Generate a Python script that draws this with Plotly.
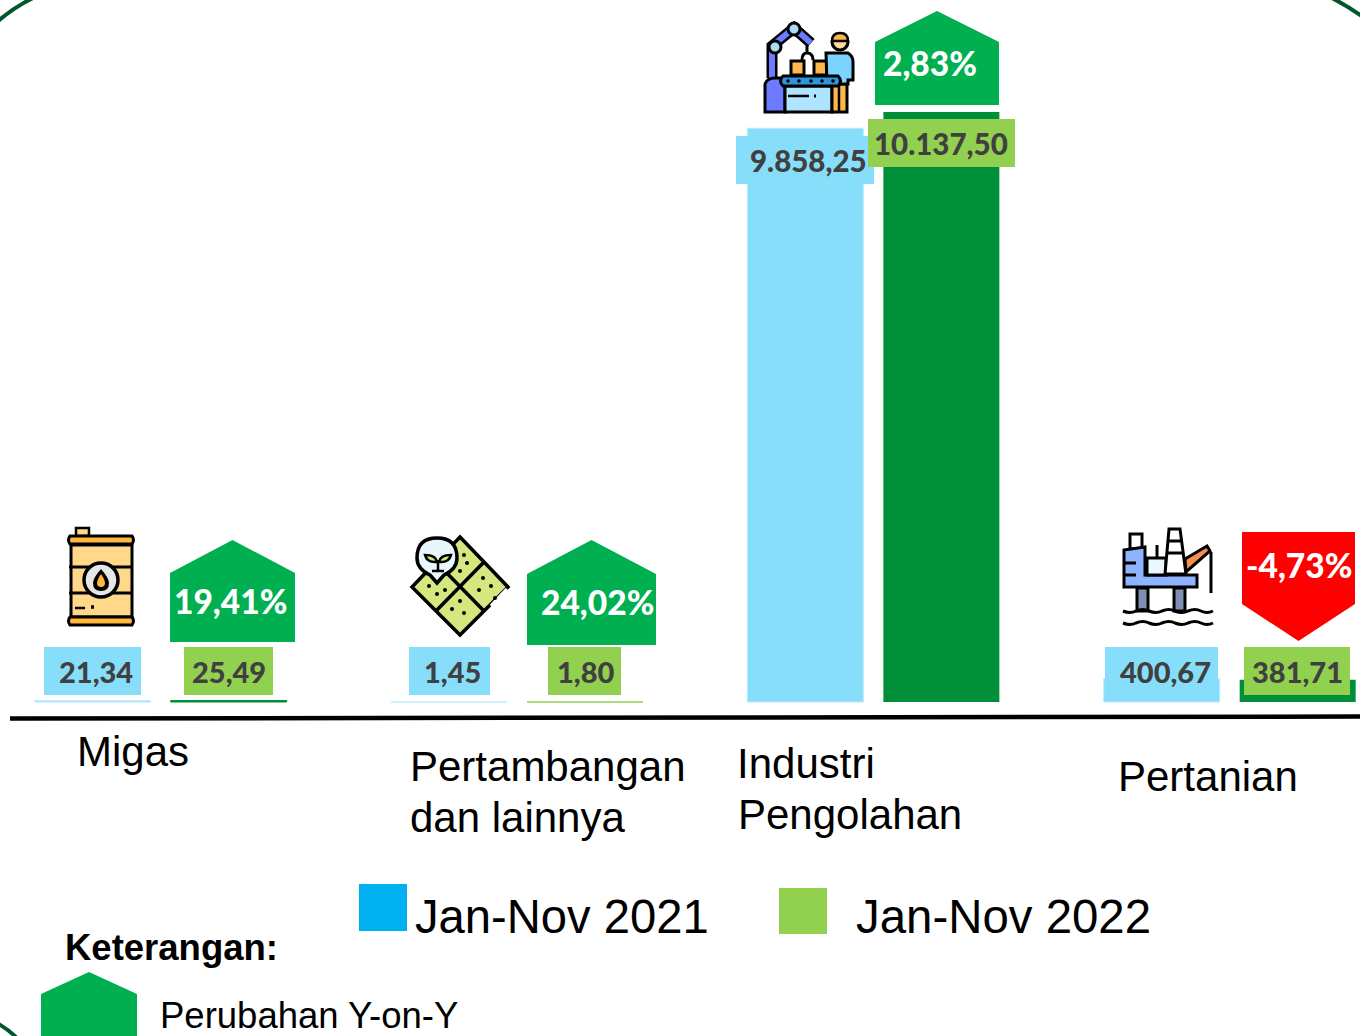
import re
import plotly.graph_objects as go

categories = ["Migas", "Pertambangan dan lainnya", "Industri Pengolahan", "Pertanian"]
series_names = ["Jan-Nov 2021", "Jan-Nov 2022"]
values_2021 = [21.34, 1.45, 9858.25, 400.67]
values_2022 = [25.49, 1.80, 10137.50, 381.71]
labels_2021 = ["21,34", "1,45", "9.858,25", "400,67"]
labels_2022 = ["25,49", "1,80", "10.137,50", "381,71"]
changes = ["19,41%", "24,02%", "2,83%", "-4,73%"]

W, H = 1360, 1036
BLUE, BAR_GREEN, LIGHT_GREEN, ARROW = "#87DEFA", "#008F39", "#92D050", "#00B050"
K = 10137.5 / 590          # value per pixel
BASE = 702                 # pixel row of value 0
BK = "#000000"


def X(p):
    return p / W


def Y(p):
    return 1 - p / H


def path_px(d):
    parts = re.findall(r"[MLCQZ]|-?\d+\.?\d*", d)
    out, i = [], 0
    for t in parts:
        if t in "MLCQZ":
            out.append(t)
        else:
            out.append(f"{X(float(t)) if i % 2 == 0 else Y(float(t)):.5f}")
            i += 1
    return " ".join(out)


shapes = []


def path(d, fill=None, line=None, w=0):
    shapes.append(dict(type="path", xref="paper", yref="paper", path=path_px(d), layer="above",
                       fillcolor=fill or "rgba(0,0,0,0)",
                       line=dict(color=line or "rgba(0,0,0,0)", width=w)))


def rect(x0, y0, x1, y1, fill, line=None, w=0):
    path(f"M{x0} {y0} L{x1} {y0} L{x1} {y1} L{x0} {y1} Z", fill, line, w)


def circle(cx, cy, r, fill, line=None, w=0):
    shapes.append(dict(type="circle", xref="paper", yref="paper", layer="above",
                       x0=X(cx - r), x1=X(cx + r), y0=Y(cy + r), y1=Y(cy - r),
                       fillcolor=fill, line=dict(color=line or "rgba(0,0,0,0)", width=w)))


def stroke(d, color=BK, w=2.5):
    path(d, None, color, w)


annotations = []


def text(x, y, s, size, color=BK, family="Liberation Sans", bold=False, anchor="left", weight=None):
    font = dict(size=size, color=color, family=family)
    if weight:
        font["weight"] = weight
    annotations.append(dict(xref="paper", yref="paper", x=X(x), y=Y(y), text=f"<b>{s}</b>" if bold else s,
                            showarrow=False, xanchor=anchor, yanchor="middle", borderpad=0, font=font))


# corner arcs of the slide frame
FRAME = "#00572B"
stroke("M-3 22 Q14 7 35 -3", FRAME, 4)
stroke("M1330 -3 Q1346 5 1363 17", FRAME, 4)
stroke("M-3 1023 Q8 1029 18 1039", FRAME, 4)

# baseline
shapes.append(dict(type="line", xref="paper", yref="paper", layer="above", x0=X(10), x1=X(1360),
                   y0=Y(718.5), y1=Y(716.5), line=dict(color=BK, width=4.5)))

# change arrows
up = [(170, 295, 540, 573, 642), (527, 656, 540, 574, 645), (875, 999, 11, 42, 105)]
for x0, x1, top, sh, bot in up:
    path(f"M{x0} {bot} L{x0} {sh} L{(x0 + x1) / 2} {top} L{x1} {sh} L{x1} {bot} Z", ARROW)
path("M1242 532 L1355 532 L1355 604 L1298.5 641 L1242 604 Z", "#FF0000")
path("M41 1040 L41 994 L89 972 L137 994 L137 1040 Z", ARROW)

# value label boxes
blue_boxes = [(44, 647, 141, 695), (409, 647, 490, 695), (736, 136, 874, 184), (1105, 647, 1218, 695)]
green_boxes = [(184, 647, 273, 695), (548, 647, 621, 695), (868, 119, 1015, 167), (1244, 647, 1350, 695)]
for b in blue_boxes:
    rect(*b, BLUE)
for b in green_boxes:
    rect(*b, LIGHT_GREEN)

# legend squares
rect(359, 884, 407, 931, "#00B0F0")
rect(779, 888, 827, 934, LIGHT_GREEN)

# --- barrel icon ---
rect(76, 528, 89, 536, "#FFD88A", BK, 2.5)
rect(71, 545, 132, 617, "#FFD88A", BK, 3)
path("M70 536 L132 536 Q135 540 132 544 L70 544 Q67 540 70 536 Z", "#FFB83D", BK, 3)
path("M70 617 L132 617 Q135 621 132 625 L70 625 Q67 621 70 617 Z", "#FFB83D", BK, 3)
stroke("M69 567 L133 567", BK, 3)
stroke("M69 593 L133 593", BK, 3)
circle(101, 580, 17, "#E6E6E6", BK, 3.5)
path("M101 569 Q109 578 109 583 Q109 591 101 591 Q93 591 93 583 Q93 578 101 569 Z", BK)
path("M101 574 Q105 580 105 583 Q105 587 101 587 Q97 587 97 583 Q97 580 101 574 Z", "#FFB83D")
stroke("M75 608 L85 608", BK, 2.5)
stroke("M91 607 L94 607", BK, 3.5)

# --- farm icon ---
path("M460 537 L508 587 L460 635 L412 587 Z", "#D5E87F", BK, 3.5)
stroke("M436 611 L484 562", BK, 3.5)
stroke("M436 562 L484 611", BK, 3.5)
stroke("M507 589 L491 606", "#FFFFFF", 3.5)
for dx, dy in [(464, 555), (467, 563), (460, 571), (483, 578), (491, 586), (479, 590), (495, 598),
               (429, 586), (437, 594), (445, 590), (460, 601), (452, 609), (464, 613)]:
    circle(dx, dy, 2, BK)
path("M437 583 L430 575 Q417 569 417 558 Q417 538 437 538 Q457 538 457 558 Q457 569 444 575 Z", "#E8F6FD", BK, 3.5)
path("M437 562 Q436 555 425 555 Q427 563 437 562 Z", "#D5E87F", BK, 2.5)
path("M439 562 Q440 555 451 555 Q449 563 439 562 Z", "#D5E87F", BK, 2.5)
stroke("M438 560 L438 571", BK, 2.5)
stroke("M432 571 L444 571", BK, 2.5)

# --- factory icon ---
stroke("M772 78 L772 46 L794 28 L811 43", BK, 11)
stroke("M772 78 L772 46 L794 28 L811 43", "#6C7BFF", 6)
circle(775, 47, 6, "#A9DDF5", BK, 3)
circle(794, 29, 6, "#A9DDF5", BK, 3)
stroke("M807 45 L807 53 M802 60 Q802 53 807 53 Q813 53 813 60", BK, 3)
rect(791, 61, 804, 75, "#FFB74D", BK, 3)
rect(814, 61, 827, 75, "#FFB74D", BK, 3)
path("M765 112 L765 84 Q767 78 775 78 L785 78 L785 112 Z", "#6C7BFF", BK, 3)
rect(785, 86, 832, 112, "#AEE4FF", BK, 3)
rect(832, 84, 847, 112, "#FFB74D", BK, 3)
stroke("M839 84 L839 112", BK, 2.5)
path("M826 53 L848 53 Q853 56 853 62 L853 80 L848 80 L848 84 L827 84 Z", "#7DD3FF", BK, 3)
circle(840, 42, 8, "#FFD9A0", BK, 3)
path("M832 41 Q832 33 840 33 Q848 33 848 41 Z", "#FFB74D", BK, 2.5)
path("M783 76 L838 76 Q843 81 838 86 L783 86 Q778 81 783 76 Z", "#2E95DC", BK, 3)
for cx in [788, 799, 811, 822, 833]:
    circle(cx, 81, 1.8, BK)
stroke("M788 96 L809 96", BK, 2.5)
stroke("M814 96 L816 96", BK, 3)

# --- oil rig icon ---
rect(1130, 534, 1142, 549, "#FFFFFF", BK, 3)
path("M1124 550 L1145 547 L1145 575 L1197 575 L1197 587 L1124 587 Z", "#8FB4FF", BK, 3)
stroke("M1124 563 L1136 563 M1124 575 L1136 575", BK, 3)
rect(1147, 558, 1166, 575, "#EAF7FF", BK, 3)
stroke("M1157 545 L1157 558", BK, 3)
path("M1169 529 L1180 529 L1186 574 L1165 574 Z", "#FFFFFF", BK, 3)
stroke("M1168 541 L1181 541 M1167 553 L1183 553", BK, 3)
path("M1185 559 L1207 546 L1210 551 L1186 572 Z", "#F58F4D", BK, 3)
stroke("M1211 552 L1211 593", BK, 3)
rect(1137, 588, 1148, 611, "#8090B0", BK, 3)
rect(1174, 588, 1185, 611, "#8090B0", BK, 3)
for wy in [611, 623]:
    stroke(f"M1123 {wy} Q1130 {wy + 3} 1136 {wy} Q1143 {wy - 3} 1149 {wy} Q1156 {wy + 3} 1162 {wy}"
           f" Q1169 {wy - 3} 1175 {wy} Q1182 {wy + 3} 1188 {wy} Q1195 {wy - 3} 1201 {wy} Q1207 {wy + 3} 1213 {wy}", BK, 3)

# --- texts ---
LAB = "#404040"
LATO = "Lato"
V = dict(color=LAB, family=LATO, anchor="center", weight=900)
P = dict(color="#FFFFFF", family=LATO, anchor="center", weight=900)
text(96, 671, labels_2021[0], 29, **V)
text(452, 671, labels_2021[1], 29, **V)
text(808, 160, labels_2021[2], 29.5, **V)
text(1165, 671, labels_2021[3], 29, **V)
text(228.5, 671, labels_2022[0], 29, **V)
text(585, 671, labels_2022[1], 29, **V)
text(941, 143, labels_2022[2], 29.5, **V)
text(1297, 671, labels_2022[3], 29, **V)
text(230.5, 601, changes[0], 33.5, **P)
text(597.5, 602, changes[1], 33.5, **P)
text(930, 63, changes[2], 33.5, **P)
text(1298.5, 565, changes[3], 33.5, **P)

text(76, 751, "Migas", 42)
text(409, 766, "Pertambangan", 42)
text(408.5, 817, "dan lainnya", 42)
text(736, 763, "Industri", 42)
text(737, 814, "Pengolahan", 42)
text(1116.5, 776, categories[3], 42)
text(414, 916, series_names[0], 47.2)
text(855, 916, series_names[1], 47.4)
text(64, 947, "Keterangan:", 36.5, bold=True)
text(159, 1015, "Perubahan Y-on-Y", 36.5)

fig = go.Figure()
fig.add_bar(x=categories, y=values_2021, name=series_names[0], marker=dict(color=BLUE, line=dict(color="#BDEBFB", width=1)))
fig.add_bar(x=categories, y=values_2022, name=series_names[1],
            marker=dict(color=BAR_GREEN, line=dict(color=[BAR_GREEN, LIGHT_GREEN, BAR_GREEN, BAR_GREEN], width=[1, 1, 0, 0])))

step = 356.33
left = 160.7
fig.update_layout(
    width=W, height=H, margin=dict(l=0, r=0, t=0, b=0), autosize=False,
    paper_bgcolor="#FFFFFF", plot_bgcolor="#FFFFFF", showlegend=False,
    barmode="group", bargap=1 - 272 / step, bargroupgap=1 - 116 / 136,
    xaxis=dict(type="category", visible=False, range=[-left / step, (W - left) / step], domain=[0, 1]),
    yaxis=dict(visible=False, range=[-(H - BASE) * K, BASE * K], domain=[0, 1]),
    shapes=shapes, annotations=annotations,
)
fig.write_html("out.html", config=dict(displayModeBar=False),
               post_script="document.body.style.margin='0';document.body.style.overflow='hidden';")
